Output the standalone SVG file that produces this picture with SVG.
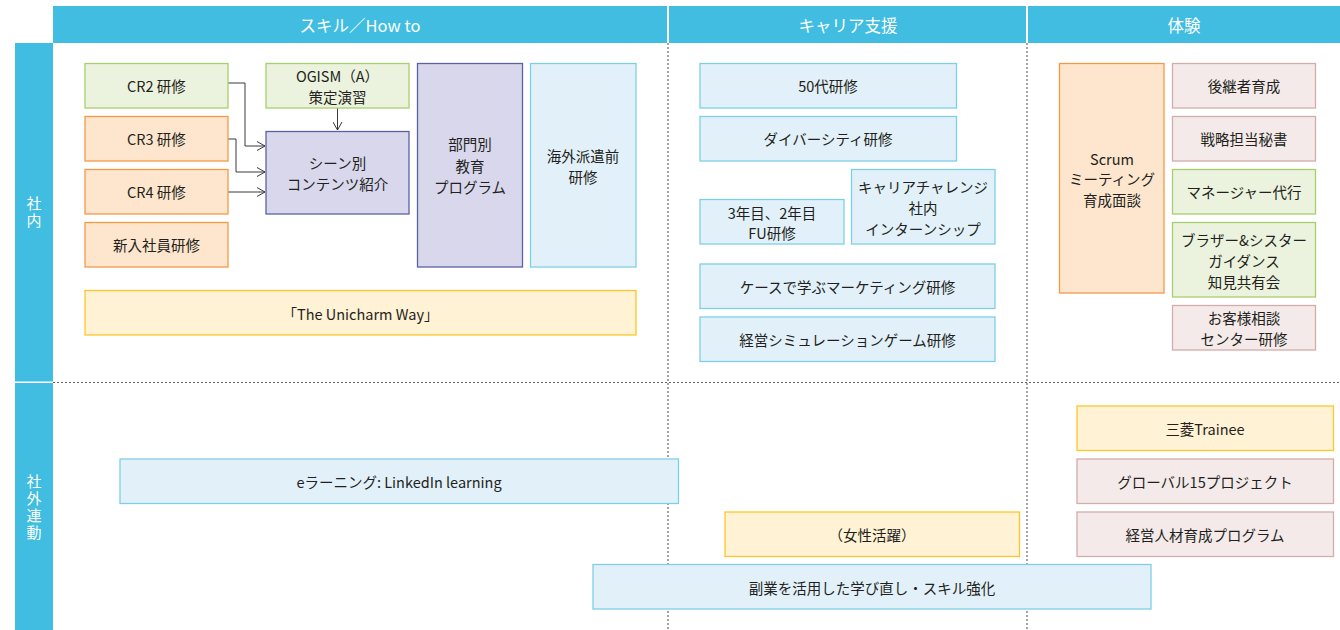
<svg xmlns="http://www.w3.org/2000/svg" width="1340" height="630" viewBox="0 0 1340 630">
<style>
text{font-family:"Noto Sans CJK JP","Noto Sans",sans-serif;fill:#231f20;font-size:14.5px;text-anchor:middle;dominant-baseline:central}
.hd{fill:#ffffff;font-size:16.5px}
.sd{fill:#ffffff;font-size:15px;writing-mode:vertical-rl;text-orientation:upright;letter-spacing:2px}
.bl{fill:#e2f1f9;stroke:#7dcfe8;stroke-width:1.3}
.gr{fill:#ebf2dd;stroke:#a6cf6c;stroke-width:1.3}
.or{fill:#fde6cd;stroke:#f39a45;stroke-width:1.3}
.pu{fill:#d9d7ec;stroke:#5a62a6;stroke-width:1.3}
.ye{fill:#fff2d5;stroke:#fdc62c;stroke-width:1.3}
.pk{fill:#f3eae9;stroke:#d4aca9;stroke-width:1.3}
.dot{stroke:#666;stroke-width:1.2;stroke-dasharray:2 2;fill:none}
.cn{stroke:#3a3a3a;stroke-width:1;fill:none}
</style>
<defs>
<marker id="arr" markerWidth="10" markerHeight="10" refX="9" refY="5" orient="auto" markerUnits="userSpaceOnUse">
<path d="M1,0.5 L9,5 L1,9.5" fill="none" stroke="#3a3a3a" stroke-width="1"/>
</marker>
</defs>
<rect width="1340" height="630" fill="#ffffff"/>
<g id="frame">
<rect x="53" y="6" width="614" height="37" fill="#40bde0"/>
<rect x="669" y="6" width="357" height="37" fill="#40bde0"/>
<rect x="1028" y="6" width="312" height="37" fill="#40bde0"/>
<text class="hd" x="360" y="25">スキル／How to</text>
<text class="hd" x="848" y="25">キャリア支援</text>
<text class="hd" x="1184" y="25">体験</text>
<rect x="15" y="43" width="38" height="338.5" fill="#40bde0"/>
<rect x="15" y="383" width="38" height="247" fill="#40bde0"/>
<text class="sd" x="34" y="213">社内</text>
<text class="sd" x="34" y="508">社外連動</text>
<line class="dot" x1="53" y1="382.5" x2="1340" y2="382.5"/>
<line class="dot" x1="668" y1="43" x2="668" y2="630"/>
<line class="dot" x1="1027" y1="43" x2="1027" y2="630"/>
</g>
<g id="connectors">
<path class="cn" d="M228,83 H245 V146 H265" marker-end="url(#arr)"/>
<path class="cn" d="M228,139 H236 V172 H265" marker-end="url(#arr)"/>
<path class="cn" d="M228,192 H265" marker-end="url(#arr)"/>
<path class="cn" d="M337.5,108 V130" marker-end="url(#arr)"/>
</g>
<g id="cr2"><rect class="gr" x="85" y="63.5" width="143" height="44.5"/><text x="156.5" y="85.5">CR2 研修</text></g>
<g id="cr3"><rect class="or" x="85" y="116.5" width="143" height="44.5"/><text x="156.5" y="138.5">CR3 研修</text></g>
<g id="cr4"><rect class="or" x="85" y="169.5" width="143" height="44.5"/><text x="156.5" y="191.5">CR4 研修</text></g>
<g id="shinnyu"><rect class="or" x="85" y="222.5" width="143" height="44.5"/><text x="156.5" y="244.5">新入社員研修</text></g>
<g id="ogism"><rect class="gr" x="266" y="63.5" width="143" height="44.5"/><text x="337.5" y="75.5">OGISM（A）</text><text x="337.5" y="96.5">策定演習</text></g>
<g id="scene"><rect class="pu" x="266" y="131.5" width="143" height="82.5"/><text x="337.5" y="162.5">シーン別</text><text x="337.5" y="183.5">コンテンツ紹介</text></g>
<g id="bumon"><rect class="pu" x="417.5" y="63.5" width="105" height="203.5"/><text x="470" y="143.5">部門別</text><text x="470" y="165">教育</text><text x="470" y="186.5">プログラム</text></g>
<g id="kaigai"><rect class="bl" x="530.5" y="63.5" width="105.5" height="203.5"/><text x="583" y="155">海外派遣前</text><text x="583" y="176">研修</text></g>
<g id="unicharm"><rect class="ye" x="85" y="290.5" width="551" height="44.5"/><text x="360.5" y="313">「The Unicharm Way」</text></g>
<g id="k50"><rect class="bl" x="700" y="63.5" width="256.5" height="44.5"/><text x="828" y="85.5">50代研修</text></g>
<g id="diversity"><rect class="bl" x="700" y="116.5" width="256.5" height="44.5"/><text x="828" y="138.5">ダイバーシティ研修</text></g>
<g id="fu"><rect class="bl" x="700" y="199.5" width="144" height="44.5"/><text x="772" y="212">3年目、2年目</text><text x="772" y="232">FU研修</text></g>
<g id="challenge"><rect class="bl" x="851.5" y="169.5" width="143.5" height="74.5"/><text x="923" y="186">キャリアチャレンジ</text><text x="923" y="207">社内</text><text x="923" y="228">インターンシップ</text></g>
<g id="case"><rect class="bl" x="700" y="264" width="295" height="44.5"/><text x="847.5" y="286">ケースで学ぶマーケティング研修</text></g>
<g id="simulation"><rect class="bl" x="700" y="317" width="295" height="44.5"/><text x="847.5" y="339">経営シミュレーションゲーム研修</text></g>
<g id="scrum"><rect class="or" x="1059.5" y="63.5" width="104.5" height="229.5"/><text x="1112" y="158">Scrum</text><text x="1112" y="178.5">ミーティング</text><text x="1112" y="199">育成面談</text></g>
<g id="koukei"><rect class="pk" x="1172.5" y="63.5" width="143" height="44.5"/><text x="1244" y="85.5">後継者育成</text></g>
<g id="senryaku"><rect class="pk" x="1172.5" y="116.5" width="143" height="44.5"/><text x="1244" y="138.5">戦略担当秘書</text></g>
<g id="manager"><rect class="gr" x="1172.5" y="169.5" width="143" height="44.5"/><text x="1244" y="191.5">マネージャー代行</text></g>
<g id="brother"><rect class="gr" x="1172.5" y="222.5" width="143" height="74.5"/><text x="1244" y="239">ブラザー&amp;シスター</text><text x="1244" y="260">ガイダンス</text><text x="1244" y="281">知見共有会</text></g>
<g id="okyaku"><rect class="pk" x="1172.5" y="305.5" width="143" height="44.5"/><text x="1244" y="317.5">お客様相談</text><text x="1244" y="338">センター研修</text></g>
<g id="elearning"><rect class="bl" x="120" y="459" width="558.5" height="44.5"/><text x="399" y="481.5">eラーニング: LinkedIn learning</text></g>
<g id="mitsubishi"><rect class="ye" x="1077" y="406" width="256.5" height="44.5"/><text x="1205" y="428.5">三菱Trainee</text></g>
<g id="global15"><rect class="pk" x="1077" y="459" width="256.5" height="44.5"/><text x="1205" y="481.5">グローバル15プロジェクト</text></g>
<g id="keiei"><rect class="pk" x="1077" y="512" width="256.5" height="44.5"/><text x="1205" y="534.5">経営人材育成プログラム</text></g>
<g id="josei"><rect class="ye" x="725" y="512" width="294.5" height="44.5"/><text x="872" y="534.5">（女性活躍）</text></g>
<g id="fukugyo"><rect class="bl" x="593" y="564.5" width="558" height="44.5"/><text x="872" y="587">副業を活用した学び直し・スキル強化</text></g>
</svg>
